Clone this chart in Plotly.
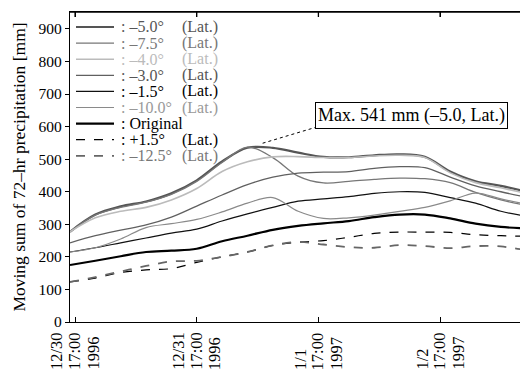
import plotly.graph_objects as go

# ---- data ----
times = ["1996-12-30 16:00", "1996-12-30 21:00", "1996-12-31 02:00", "1996-12-31 07:00",
         "1996-12-31 12:00", "1996-12-31 17:00", "1996-12-31 22:00", "1997-01-01 03:00",
         "1997-01-01 08:00", "1997-01-01 13:00", "1997-01-01 18:00", "1997-01-01 23:00",
         "1997-01-02 04:00", "1997-01-02 09:00", "1997-01-02 14:00", "1997-01-02 19:00",
         "1997-01-03 00:00", "1997-01-03 05:00", "1997-01-03 10:00"]

lat_m5_0 = [277, 330, 355, 370, 395, 435, 493, 535, 535, 520, 507, 506, 512, 515, 507, 462, 432, 418, 400]
lat_m7_5 = [277, 328, 352, 368, 392, 432, 490, 537, 505, 448, 427, 432, 438, 442, 440, 428, 398, 375, 358]
lat_m4_0 = [277, 320, 340, 352, 375, 410, 462, 492, 507, 508, 505, 505, 510, 512, 505, 458, 428, 412, 395]
lat_m3_0 = [243, 265, 282, 298, 322, 356, 390, 422, 445, 457, 460, 462, 472, 477, 474, 445, 418, 400, 383]
lat_m1_5 = [215, 228, 243, 258, 273, 285, 310, 332, 352, 371, 378, 385, 395, 400, 398, 382, 365, 340, 325]
lat_m10_0 = [215, 228, 255, 290, 302, 315, 338, 365, 382, 340, 318, 320, 328, 340, 352, 372, 396, 378, 362]
original = [175, 188, 202, 215, 219, 225, 248, 265, 283, 295, 303, 310, 322, 330, 330, 318, 302, 292, 287]
lat_p1_5 = [123, 135, 152, 160, 164, 183, 200, 215, 235, 245, 250, 260, 272, 276, 276, 275, 268, 265, 263]
lat_m12_5 = [123, 138, 155, 172, 186, 188, 200, 215, 235, 246, 238, 230, 228, 236, 233, 227, 233, 232, 220]

series_labels = ["–5.0°", "–7.5°", "–4.0°", "–3.0°", "–1.5°", "–10.0°", "Original", "+1.5°", "–12.5°"]
series_values = [lat_m5_0, lat_m7_5, lat_m4_0, lat_m3_0, lat_m1_5, lat_m10_0, original, lat_p1_5, lat_m12_5]
series_has_lat = [True, True, True, True, True, True, False, True, True]

tick_vals = ["1996-12-30 17:00", "1996-12-31 17:00", "1997-01-01 17:00", "1997-01-02 17:00"]
tick_text = ["12/30<br>17:00<br>1996", "12/31<br>17:00<br>1996", "1/1<br>17:00<br>1997", "1/2<br>17:00<br>1997"]
y_tick_vals = [0, 100, 200, 300, 400, 500, 600, 700, 800, 900]

max_label = "Max. 541 mm (–5.0, Lat.)"
peak_time = "1997-01-01 06:00"
peak_value = 541

# ---- styles ----
line_colors = ["#555555", "#777777", "#bbbbbb", "#606060", "#111111", "#8a8a8a", "#000000", "#000000", "#666666"]
text_colors = ["#555555", "#777777", "#bbbbbb", "#555555", "#000000", "#999999", "#000000", "#000000", "#777777"]
line_widths = [2.2, 1.3, 1.6, 1.3, 1.2, 1.2, 2.2, 1.2, 1.8]
line_dashes = ["solid"] * 7 + ["dash", "dash"]

FONT = "Liberation Serif, Times New Roman, serif"
W, H = 520, 371
ML, MR, MT, MB = 70, 0, 12, 49
PW, PH = W - ML - MR, H - MT - MB

fig = go.Figure()
for i in range(len(series_labels)):
    fig.add_trace(go.Scatter(
        x=times, y=series_values[i], mode="lines", name=series_labels[i],
        line=dict(color=line_colors[i], width=line_widths[i], dash=line_dashes[i],
                  shape="spline", smoothing=1.0),
        showlegend=False))


def px2paper_x(px):
    return (px - ML) / PW


def py2paper_y(py):
    return (MT + PH - py) / PH


shapes = []
annotations = []

# manual legend built from the series lists
for i, lab in enumerate(series_labels):
    py = 27 + 16.1 * i
    yy = py2paper_y(py)
    shapes.append(dict(type="line", xref="paper", yref="paper",
                       x0=px2paper_x(76), x1=px2paper_x(114), y0=yy, y1=yy,
                       line=dict(color=line_colors[i], width=line_widths[i], dash=line_dashes[i])))
    annotations.append(dict(xref="paper", yref="paper", x=px2paper_x(120), y=yy,
                            xanchor="left", yanchor="middle", showarrow=False, borderpad=0,
                            text=": " + lab, font=dict(family=FONT, size=16, color=text_colors[i])))
    if series_has_lat[i]:
        annotations.append(dict(xref="paper", yref="paper", x=px2paper_x(181), y=yy,
                                xanchor="left", yanchor="middle", showarrow=False, borderpad=0,
                                text="(Lat.)", font=dict(family=FONT, size=16, color=text_colors[i])))

# x tick labels: one rotated text per line, lines side by side
line_offsets = [-18, 0, 18]
for tv, tt in zip(tick_vals, tick_text):
    for off, part in zip(line_offsets, tt.split("<br>")):
        annotations.append(dict(xref="x", yref="paper", x=tv, y=py2paper_y(371),
                                xanchor="center", yanchor="bottom", xshift=off,
                                textangle=-90, showarrow=False, borderpad=0,
                                text=part, font=dict(family=FONT, size=16.5, color="#000")))

# top frame line with inward ticks
shapes.append(dict(type="line", xref="paper", yref="paper", x0=0, x1=1, y0=1, y1=1,
                   line=dict(color="#000", width=1.3)))
for tv in tick_vals:
    shapes.append(dict(type="line", xref="x", yref="paper", x0=tv, x1=tv, y0=1, y1=1 - 5 / PH,
                       line=dict(color="#000", width=1.3)))

# max annotation box + dotted connector
annotations.append(dict(xref="paper", yref="paper", x=px2paper_x(315), y=py2paper_y(102),
                        xanchor="left", yanchor="top", showarrow=False, text=max_label,
                        font=dict(family=FONT, size=18, color="#000"),
                        bordercolor="#000", borderwidth=1, borderpad=2, bgcolor="white"))
shapes.append(dict(type="line", xref="x", yref="y", x0=peak_time, y0=peak_value + 8,
                   x1="1997-01-01 16:30", y1=598, line=dict(color="#000", width=1, dash="dot")))

fig.update_layout(
    width=W, height=H,
    margin=dict(l=ML, r=MR, t=MT, b=MB, autoexpand=False),
    paper_bgcolor="white", plot_bgcolor="white",
    font=dict(family=FONT, size=15, color="#000"),
    shapes=shapes, annotations=annotations,
    showlegend=False,
)
fig.update_xaxes(
    range=["1996-12-30 16:00", "1997-01-03 08:46"],
    tickvals=tick_vals, showticklabels=False,
    ticks="inside", ticklen=5, tickcolor="#000",
    showline=True, linecolor="#000", linewidth=1.3, mirror="ticks",
    showgrid=False, zeroline=False, automargin=False,
)
fig.update_yaxes(
    range=[0, 952], tickvals=y_tick_vals,
    tickfont=dict(family=FONT, size=15.5),
    ticks="outside", ticklen=4, tickcolor="#000",
    showline=True, linecolor="#000", linewidth=1.3, mirror=False,
    showgrid=False, zeroline=False, automargin=False,
    title=dict(text="Moving sum of 72–hr precipitation [mm]", font=dict(family=FONT, size=17.5), standoff=8),
)

fig.write_html("out.html", config={"displayModeBar": False},
               post_script="document.body.style.margin='0';")
